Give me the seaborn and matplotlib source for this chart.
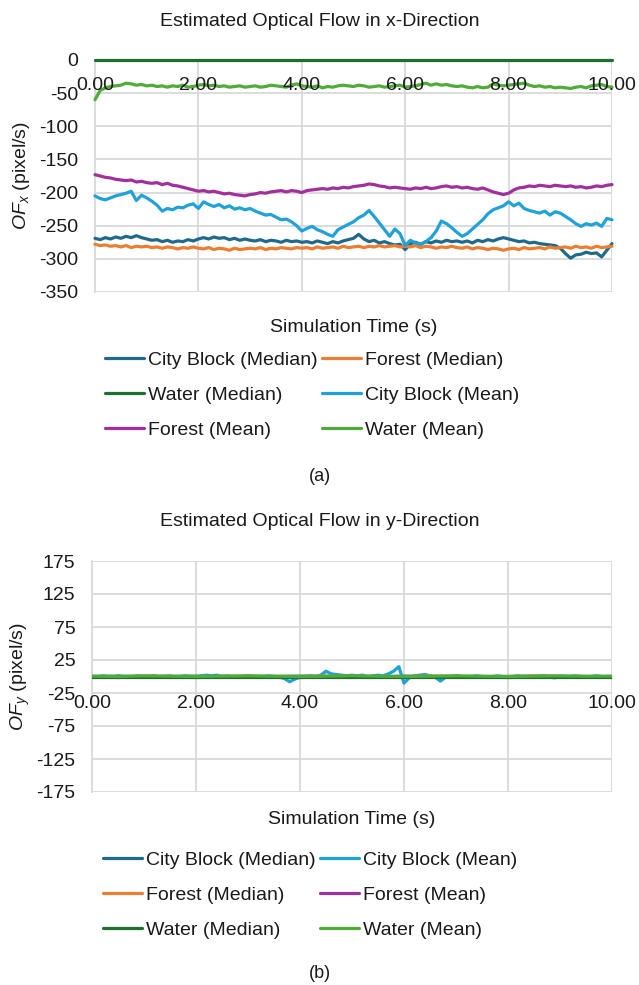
import numpy as np
import seaborn as sns
import matplotlib.pyplot as plt
from matplotlib.ticker import FormatStrFormatter

# tiempos de muestreo (s)
t = np.round(np.linspace(0, 10, 101), 2)
t_coarse = np.round(np.linspace(0, 10, 21), 2)
t_ends = [0.0, 10.0]

# ---- flujo optico en x (pixel/s) ----
cb_median_x = [-269, -271, -268, -270, -267, -269, -266, -268, -265, -268, -270,
               -272, -271, -274, -272, -275, -273, -274, -271, -273, -270,
               -268, -270, -267, -269, -268, -271, -269, -272, -270, -272,
               -273, -271, -274, -272, -273, -275, -272, -274, -273, -275,
               -274, -276, -273, -275, -277, -274, -276, -273, -271, -269,
               -263, -270, -274, -272, -276, -274, -277, -279, -278, -286,
               -277, -275, -278, -274, -276, -273, -275, -272, -274, -273,
               -275, -273, -276, -272, -274, -271, -273, -270, -268, -270,
               -272, -274, -273, -276, -275, -277, -278, -279, -280, -284,
               -292, -299, -294, -293, -290, -292, -291, -297, -287, -277]
forest_median_x = [-278, -280, -279, -281, -280, -282, -280, -283, -281, -282, -281,
                   -283, -282, -284, -282, -283, -285, -283, -284, -282, -284,
                   -285, -283, -286, -284, -285, -287, -284, -286, -285, -284,
                   -285, -283, -286, -284, -285, -283, -284, -285, -283, -284,
                   -283, -285, -282, -284, -283, -282, -284, -281, -283, -282,
                   -281, -283, -281, -282, -280, -282, -281, -280, -282, -281,
                   -282, -280, -283, -281, -282, -284, -282, -283, -281, -283,
                   -284, -282, -285, -283, -284, -286, -284, -285, -287, -285,
                   -284, -286, -283, -285, -284, -283, -285, -282, -284, -283,
                   -282, -284, -281, -283, -282, -284, -281, -283, -282, -281]
water_median_x = [0, 0]
cb_mean_x = [-205, -209, -211, -208, -205, -203, -201, -198, -212, -204, -208,
             -213, -219, -228, -224, -226, -222, -223, -219, -217, -224,
             -214, -218, -221, -218, -223, -220, -225, -223, -226, -224,
             -228, -231, -234, -233, -237, -241, -240, -244, -250, -258,
             -254, -251, -256, -259, -263, -266, -256, -252, -248, -244,
             -238, -234, -227, -236, -246, -256, -266, -255, -262, -280,
             -272, -276, -278, -274, -268, -258, -243, -247, -253, -260,
             -266, -262, -255, -248, -241, -232, -226, -223, -220, -214,
             -220, -216, -224, -227, -229, -231, -228, -234, -229, -231,
             -236, -241, -247, -251, -247, -249, -246, -251, -239, -241]
forest_mean_x = [-173, -175, -177, -178, -180, -181, -182, -181, -184, -183, -185,
                 -186, -185, -188, -186, -189, -190, -192, -194, -196, -198,
                 -197, -199, -198, -200, -202, -201, -203, -204, -205, -203,
                 -202, -200, -201, -199, -198, -197, -199, -197, -198, -200,
                 -197, -196, -195, -194, -195, -193, -194, -192, -193, -191,
                 -190, -189, -187, -188, -190, -191, -193, -192, -193, -194,
                 -195, -193, -194, -192, -194, -193, -191, -190, -192, -191,
                 -193, -192, -194, -195, -193, -196, -199, -201, -203, -201,
                 -196, -193, -192, -190, -191, -189, -190, -191, -189, -190,
                 -191, -190, -192, -191, -193, -192, -190, -191, -189, -188]
water_mean_x = [-60, -46, -42, -40, -39, -38, -35, -36, -38, -37, -39,
                -38, -40, -39, -41, -39, -40, -38, -41, -40, -38,
                -37, -39, -38, -40, -39, -41, -40, -39, -41, -40,
                -39, -41, -40, -38, -39, -40, -41, -38, -36, -39,
                -40, -41, -39, -42, -40, -41, -39, -38, -39, -40,
                -38, -39, -41, -40, -39, -41, -40, -39, -38, -41,
                -40, -39, -37, -35, -38, -36, -38, -37, -39, -40,
                -39, -41, -42, -40, -42, -41, -36, -38, -39, -38,
                -37, -36, -35, -38, -40, -39, -41, -40, -42, -41,
                -42, -43, -41, -40, -42, -39, -38, -37, -40, -41]

# ---- flujo optico en y (pixel/s) ----
cb_median_y = [0, 0.5, -0.5, 0, 0.5, 0, -0.5, 0, 0.5, 0, 0,
               -0.5, 0.5, 0, 0, -0.5, 0, 0.5, 0, -0.5, 0]
cb_mean_y = [0, -1, 1, 0, -1, 1, 0, -1, 0, 1, -1,
             0, 1, -1, 0, 1, -1, 0, 1, 0, -1,
             1, 2, 1, 2, 0, 1, 0, -1, 0, 1,
             0, -1, 0, 1, 0, -1, -3, -8, -4, -1,
             0, 1, 0, 2, 8, 4, 3, 2, 1, 2,
             1, 2, 0, 1, 2, 1, 4, 8, 15, -10,
             -2, 1, 2, 3, 1, -1, -7, -1, 0, 1,
             0, -1, 0, 1, 0, -1, 0, 1, 0, -1,
             0, 1, -1, 0, -1, 0, 1, -1, -2, 0,
             -1, 0, 1, 0, -1, 0, 1, 0, -1, 0]
forest_median_y = [0, -0.5, 0.5, 0, -0.5, 0, 0.5, -0.5, 0, 0.5, 0,
                   -0.5, 0, 0.5, 0, -0.5, 0, 0.5, 0, -0.5, 0]
forest_mean_y = [-1, -1.5, -0.5, -1, -1.5, -1, -0.5, -1, -1.5, -1, -0.5,
                 -1, -1.5, -1, -0.5, -1, -1.5, -1, -1, -0.5, -1]
water_median_y = [0, 0]
water_mean_y = [0.5, 0, 1, 0.5, 0, 0.5, 1, 0.5, 0, 0.5, 1,
                0.5, 0, 0.5, 1, 0.5, 0, 0.5, 1, 0.5, 0.5]

COL = {
    "City Block (Median)": "#1f6a8c",
    "Forest (Median)": "#ed7d31",
    "Water (Median)": "#1e7030",
    "City Block (Mean)": "#1fa2d8",
    "Forest (Mean)": "#a2309c",
    "Water (Mean)": "#4fac38",
}
GRID = "#d9d9d9"

sns.set_style("white")
plt.rcParams['font.family'] = ['Liberation Sans', 'DejaVu Sans']
plt.rcParams['axes.unicode_minus'] = False
plt.rcParams['mathtext.fontset'] = 'custom'
plt.rcParams['mathtext.it'] = 'Liberation Sans:italic'
plt.rcParams['mathtext.rm'] = 'Liberation Sans'
FS = 14


def estilo_ejes(ax, yticks, ylim, xpad):
    ax.set_xlim(0, 10)
    ax.set_ylim(*ylim)
    ax.set_yticks(yticks)
    ax.set_xticks([0, 2, 4, 6, 8, 10])
    ax.xaxis.set_major_formatter(FormatStrFormatter('%.2f'))
    ax.set_axisbelow(False)
    for y in yticks:
        ax.axhline(y, color=GRID, lw=1.3, zorder=0.5)
    for x in [2, 4, 6, 8, 10]:
        ax.axvline(x, color=GRID, lw=1.3, zorder=0.5)
    for s in ['top', 'right']:
        ax.spines[s].set_visible(False)
    ax.spines['left'].set_color(GRID)
    ax.spines['left'].set_linewidth(1.3)
    ax.spines['left'].set_zorder(0.6)
    ax.spines['bottom'].set_position(('data', 0))
    ax.spines['bottom'].set_color(GRID)
    ax.spines['bottom'].set_linewidth(1.3)
    ax.spines['bottom'].set_zorder(0.6)
    ax.tick_params(axis='both', length=0, labelsize=FS, colors='#1a1a1a')
    ax.tick_params(axis='y', pad=12)
    ax.tick_params(axis='x', pad=xpad)
    ax.set_xlabel("")
    ax.set_ylabel("")


fig = plt.figure(figsize=(6.39, 9.85), dpi=100)

# ---------- (a) ----------
ax1 = fig.add_axes([95 / 639, 1 - 292 / 985, 517 / 639, 232 / 985])
series_a = [
    ("City Block (Median)", t, cb_median_x),
    ("Forest (Median)", t, forest_median_x),
    ("Water (Median)", t_ends, water_median_x),
    ("City Block (Mean)", t, cb_mean_x),
    ("Forest (Mean)", t, forest_mean_x),
    ("Water (Mean)", t, water_mean_x),
]
for nombre, xs, ys in series_a:
    sns.lineplot(x=xs, y=ys, ax=ax1, color=COL[nombre], lw=2.3, label=nombre,
                 clip_on=False, zorder=2)
estilo_ejes(ax1, [0, -50, -100, -150, -200, -250, -300, -350], (-350, 0), 12.5)
ax1.set_xlabel("Simulation Time (s)", fontsize=FS, color='#1a1a1a')
ax1.xaxis.set_label_coords(0.5, -0.117)
ax1.set_ylabel(r"$OF_x$ (pixel/s)", fontsize=FS, color='#1a1a1a')
ax1.yaxis.set_label_coords(-0.122, 0.5)
h, l = ax1.get_legend_handles_labels()
ax1.get_legend().remove()
orden = [0, 2, 4, 1, 3, 5]
for hh in h:
    hh.set_linewidth(2.3)
fig.legend([h[i] for i in orden], [l[i] for i in orden], ncol=2, frameon=False,
           loc='center', bbox_to_anchor=(312 / 639, 1 - 395 / 985), fontsize=FS,
           handlelength=2.0, handletextpad=0.2, columnspacing=0.25,
           labelspacing=0.88, borderpad=0, labelcolor='#1a1a1a')
fig.text(0.5, 1 - 22 / 985, "Estimated Optical Flow in x-Direction",
         ha='center', va='center', fontsize=FS, color='#1a1a1a')
fig.text(0.5, 1 - 476 / 985, "(a)", ha='center', va='center', fontsize=FS - 1,
         color='#1a1a1a')

# ---------- (b) ----------
ax2 = fig.add_axes([92 / 639, 1 - 792 / 985, 520 / 639, 231 / 985])
series_b = [
    ("City Block (Median)", t_coarse, cb_median_y),
    ("City Block (Mean)", t, cb_mean_y),
    ("Forest (Median)", t_coarse, forest_median_y),
    ("Forest (Mean)", t_coarse, forest_mean_y),
    ("Water (Median)", t_ends, water_median_y),
    ("Water (Mean)", t_coarse, water_mean_y),
]
for nombre, xs, ys in series_b:
    lw = 3.2 if nombre == "Water (Mean)" else 2.2
    sns.lineplot(x=xs, y=ys, ax=ax2, color=COL[nombre], lw=lw, label=nombre, zorder=2)
estilo_ejes(ax2, [175, 125, 75, 25, -25, -75, -125, -175], (-175, 175), 13)
ax2.set_xlabel("Simulation Time (s)", fontsize=FS, color='#1a1a1a')
ax2.xaxis.set_label_coords(0.5, -0.083)
ax2.set_ylabel(r"$OF_y$ (pixel/s)", fontsize=FS, color='#1a1a1a')
ax2.yaxis.set_label_coords(-0.115, 0.5)
h, l = ax2.get_legend_handles_labels()
ax2.get_legend().remove()
orden = [0, 2, 4, 1, 3, 5]
for hh in h:
    hh.set_linewidth(2.3)
fig.legend([h[i] for i in orden], [l[i] for i in orden], ncol=2, frameon=False,
           loc='center', bbox_to_anchor=(310 / 639, 1 - 895 / 985), fontsize=FS,
           handlelength=2.0, handletextpad=0.2, columnspacing=0.25,
           labelspacing=0.88, borderpad=0, labelcolor='#1a1a1a')
fig.text(0.5, 1 - 522 / 985, "Estimated Optical Flow in y-Direction",
         ha='center', va='center', fontsize=FS, color='#1a1a1a')
fig.text(0.5, 1 - 973 / 985, "(b)", ha='center', va='center', fontsize=FS - 1,
         color='#1a1a1a')

fig.savefig("out.png", dpi=100)
